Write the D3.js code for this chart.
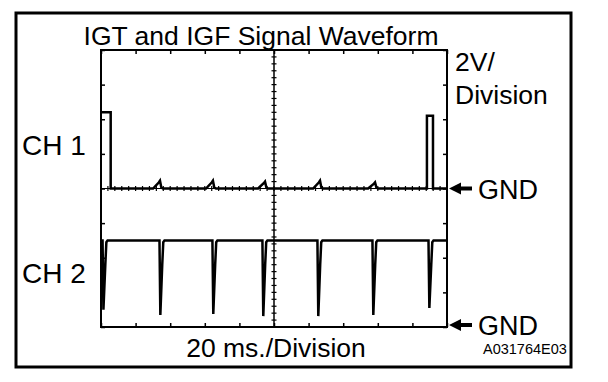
<!DOCTYPE html>
<html>
<head>
<meta charset="utf-8">
<script src="https://cdn.jsdelivr.net/npm/d3@7"></script>
<style>
body { margin: 0; background: #fff; }
svg { display: block; }
text { font-family: "Liberation Sans", Arial, sans-serif; fill: #000; }
</style>
</head>
<body>
<svg id="chart"></svg>
<script>
// time in ms (20 ms/div, 10 div), voltage in V (2 V/div)
let ch1Pulses = [[0, 5.6, 4.4], [188.4, 191.9, 4.2]];   // start, end, level
let ch1Bumps = [34.1, 64.7, 94.8, 126.6, 158.4];
let ch1BumpHeight = [0.45, 0.45, 0.4, 0.45, 0.35];
let ch2Dips = [1.2, 34.1, 64.7, 93.6, 125.4, 157.2, 189.6];
let ch2DipLow = [1.0, 0.7, 0.75, 0.63, 0.63, 0.7, 1.1];
let ch2High = 5.0;
let labels = ["CH 1", "CH 2"];
let gndOffset = [4, 0];  // divisions above the bottom edge

function ch1Data() {
    let pts = [];
    let p1 = ch1Pulses[0], p2 = ch1Pulses[1];
    pts.push([p1[0], p1[2]], [p1[1], p1[2]], [p1[1], 0]);
    for (let i = 0; i < ch1Bumps.length; i++) {
        let t = ch1Bumps[i];
        pts.push([t - 4, 0], [t - 0.6, ch1BumpHeight[i] * 0.8], [t, ch1BumpHeight[i]], [t + 0.8, 0.05], [t + 1.8, 0]);
    }
    pts.push([p2[0], 0], [p2[0], p2[2]], [p2[1], p2[2]], [p2[1], 0], [200, 0]);
    return pts;
}

function ch2Data() {
    let pts = [[0, ch2High]];
    for (let i = 0; i < ch2Dips.length; i++) {
        let t = ch2Dips[i];
        pts.push([t - 0.3, ch2High], [t + 0.2, ch2DipLow[i]], [t + 1.3, 3.6], [t + 1.9, 4.9], [t + 2.6, ch2High]);
    }
    pts.push([200, ch2High]);
    return pts;
}

let svg = d3.select("#chart").attr("width", 608).attr("height", 382);

let boxL = 101, boxR = 447, boxT = 50, boxB = 327;
let scaleX = d3.scaleLinear().domain([0, 200]).range([boxL, boxR]);
let scaleY = d3.scaleLinear().domain([0, 8]).range([boxB, boxT]);

// outer frame
svg.append("rect")
    .attr("x", 16).attr("y", 13).attr("width", 555).attr("height", 354)
    .style("fill", "none").style("stroke", "#000").style("stroke-width", 3);

// graticule: center lines with minor ticks
let g = svg.append("g");
g.append("line")
    .attr("x1", scaleX(100)).attr("x2", scaleX(100)).attr("y1", boxT).attr("y2", boxB)
    .style("stroke", "#000").style("stroke-width", 1.5);
g.append("line")
    .attr("x1", boxL).attr("x2", boxR).attr("y1", scaleY(4)).attr("y2", scaleY(4))
    .style("stroke", "#000").style("stroke-width", 1);

let minorY = d3.range(0, 8.01, 0.2);
g.selectAll(".my").data(minorY).enter().append("line")
    .attr("x1", scaleX(100) - 2.5).attr("x2", scaleX(100) + 2.5)
    .attr("y1", d => scaleY(d)).attr("y2", d => scaleY(d))
    .style("stroke", "#000").style("stroke-width", 1.2);
let minorX = d3.range(0, 200.01, 4);
g.selectAll(".mx").data(minorX).enter().append("line")
    .attr("x1", d => scaleX(d)).attr("x2", d => scaleX(d))
    .attr("y1", scaleY(4) - 2.5).attr("y2", scaleY(4) + 2.5)
    .style("stroke", "#000").style("stroke-width", 1.2);

// axes on border as inward ticks
let axisTop = d3.axisBottom(scaleX).ticks(10).tickSize(4).tickFormat("");
let axisBottom = d3.axisTop(scaleX).ticks(10).tickSize(4).tickFormat("");
let axisLeft = d3.axisRight(scaleY).ticks(8).tickSize(4).tickFormat("");
let axisRight = d3.axisLeft(scaleY).ticks(8).tickSize(4).tickFormat("");
[[axisTop, `translate(0, ${boxT})`], [axisBottom, `translate(0, ${boxB})`],
 [axisLeft, `translate(${boxL}, 0)`], [axisRight, `translate(${boxR}, 0)`]].forEach(a => {
    let ax = svg.append("g").attr("transform", a[1]).call(a[0]);
    ax.select(".domain").remove();
    ax.selectAll("line").style("stroke", "#000").style("stroke-width", 1.5);
});

// inner box
svg.append("rect")
    .attr("x", boxL).attr("y", boxT).attr("width", boxR - boxL).attr("height", boxB - boxT)
    .style("fill", "none").style("stroke", "#000").style("stroke-width", 2);

// waveforms
let series = [ch1Data(), ch2Data()];
series.forEach((data, i) => {
    let lineF = d3.line()
        .x(d => scaleX(d[0]))
        .y(d => scaleY(gndOffset[i] + d[1] / 2));
    svg.append("path")
        .datum(data)
        .attr("d", lineF)
        .style("fill", "none")
        .style("stroke", "#000")
        .style("stroke-width", 2.5)
        .style("stroke-linejoin", "miter");
});

// labels
let fs = "26.5px";
svg.append("text").attr("x", 261).attr("y", 45).attr("text-anchor", "middle")
    .style("font-size", fs).text("IGT and IGF Signal Waveform");
svg.append("text").attr("x", 455).attr("y", 71).style("font-size", fs).text("2V/");
svg.append("text").attr("x", 455).attr("y", 104).style("font-size", fs).text("Division");
svg.append("text").attr("x", 276).attr("y", 357).attr("text-anchor", "middle")
    .style("font-size", fs).text("20 ms./Division");
svg.append("text").attr("x", 483).attr("y", 354).style("font-size", "14.5px").text("A031764E03");

labels.forEach((lab, i) => {
    let yc = [145, 273][i];
    svg.append("text").attr("x", 22).attr("y", yc + 10).style("font-size", "28px").text(lab);
    let gy = scaleY(gndOffset[i]) - (i == 1 ? 2 : 0);
    svg.append("path")
        .attr("d", `M449,${gy} L461,${gy - 6} L461,${gy - 2} L472,${gy - 2} L472,${gy + 2} L461,${gy + 2} L461,${gy + 6} Z`)
        .style("fill", "#000");
    svg.append("text").attr("x", 478).attr("y", gy + 10).style("font-size", "27px").text("GND");
});
</script>
</body>
</html>
